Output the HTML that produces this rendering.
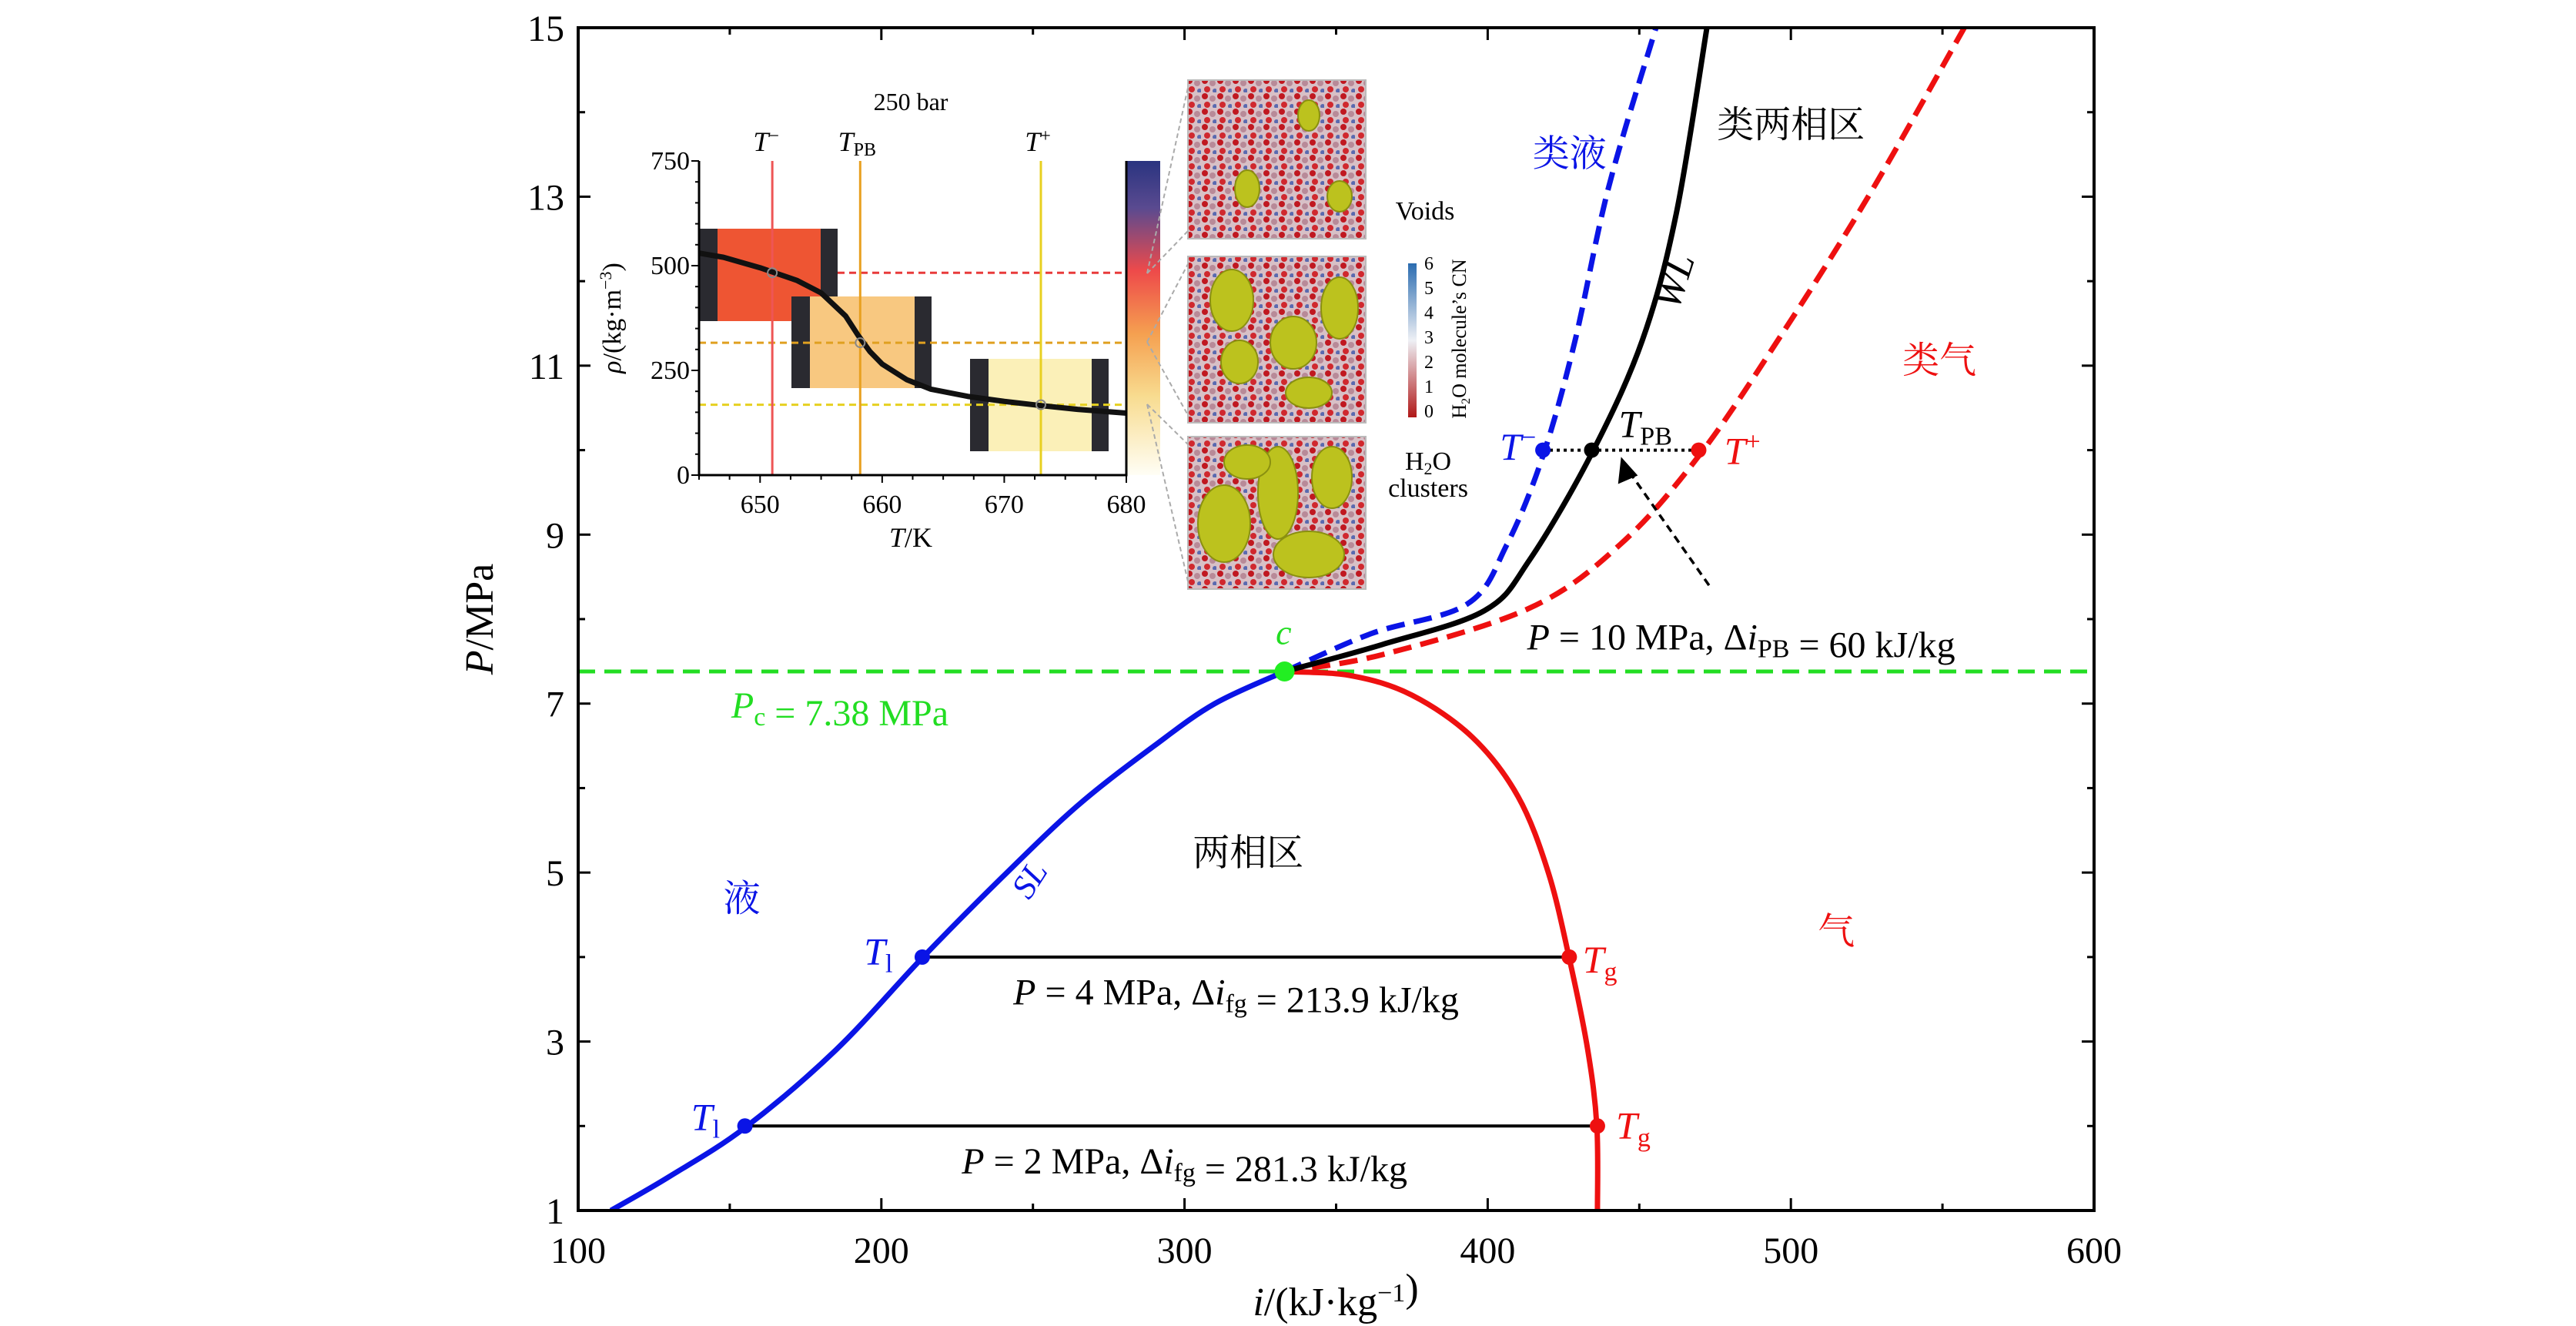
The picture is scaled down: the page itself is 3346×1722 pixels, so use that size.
<!DOCTYPE html>
<html><head><meta charset="utf-8">
<style>
html,body{margin:0;padding:0;background:#fff;}
svg{display:block;font-family:"Liberation Serif","Noto Serif CJK SC",serif;}
.cjk{font-family:"Liberation Serif","Noto Serif CJK SC","Noto Sans CJK SC",serif;}
</style></head>
<body>
<svg id="chart" width="3346" height="1722" viewBox="0 0 3346 1722" xmlns="http://www.w3.org/2000/svg" font-family="Liberation Serif, Noto Serif CJK SC, serif">
<defs>
<linearGradient id="cbar" x1="0" y1="0" x2="0" y2="1">
<stop offset="0" stop-color="#2a3480"/><stop offset="0.15" stop-color="#5a4a90"/>
<stop offset="0.35" stop-color="#ee4a4a"/><stop offset="0.55" stop-color="#f5a050"/>
<stop offset="0.75" stop-color="#f8dc90"/><stop offset="1" stop-color="#fffef5"/></linearGradient>
<linearGradient id="cnbar" x1="0" y1="0" x2="0" y2="1">
<stop offset="0" stop-color="#2b6cb0"/><stop offset="0.5" stop-color="#eef0f5"/><stop offset="1" stop-color="#b01818"/></linearGradient>
<pattern id="mol" width="20" height="20" patternUnits="userSpaceOnUse">
<rect width="20" height="20" fill="#d8c0c6"/>
<circle cx="5" cy="5" r="4" fill="#c01820"/><circle cx="15" cy="8" r="4" fill="#b88a98"/>
<circle cx="8" cy="16" r="4" fill="#d0282e"/><circle cx="18" cy="18" r="3" fill="#5a6ab0"/></pattern>
</defs>
<g id="inset"></g>
<g id="main"></g>
</svg>
<script>
// ---------- main chart data ----------
const xTicks = [100, 200, 300, 400, 500, 600];
const yTicks = [1, 3, 5, 7, 9, 11, 13, 15];
const slI = [110.8, 130, 155, 185, 213.5, 240, 265, 290, 310, 333];
const slP = [1, 1.4, 1.98, 2.9, 3.99, 4.95, 5.8, 6.5, 7.0, 7.38];
const svI = [333, 355, 375, 395, 410, 420, 427, 433, 436, 436.2];
const svP = [7.38, 7.33, 7.1, 6.6, 5.9, 5.0, 3.97, 2.9, 2.0, 1];
const wlI = [333, 365.3, 398.9, 413.8, 434.3, 451, 462.2, 472.3];
const wlP = [7.38, 7.7, 8.1, 8.7, 9.96, 11.3, 12.8, 15];
const tmI = [333, 361.7, 393.3, 406.3, 418.2, 428.7, 439.8, 455.5];
const tmP = [7.38, 7.83, 8.18, 8.88, 9.93, 11.28, 13.1, 15];
const tpI = [333, 365.3, 413.8, 443.6, 469.6, 495.7, 525.5, 557.2];
const tpP = [7.38, 7.58, 8.13, 8.88, 9.93, 11.3, 13.0, 15];
const Pc = 7.38, Ic = 333;
const isobarP = [4, 2];
const isobarL = [213.5, 155];
const isobarG = [426.9, 436.2];
const pbP = 10, pbMinus = 418.2, pbMid = 434.3, pbPlus = 469.6;
// ---------- inset data ----------
const inTicks = [650, 660, 670, 680];
const inYTicks = [0, 250, 500, 750];
const rhoT = [645, 647, 650, 653, 655, 657, 658, 659, 660, 662, 664, 667, 670, 673, 676, 680];
const rhoV = [530, 520, 495, 465, 435, 380, 335, 295, 265, 228, 205, 188, 176, 166, 157, 148];
const markT = [651, 658.2, 673];
const markRho = [483, 316, 168];

const NS = "http://www.w3.org/2000/svg";
function mk(parent, tag, attrs, text) {
  const e = document.createElementNS(NS, tag);
  for (const k in attrs) e.setAttribute(k, attrs[k]);
  if (text !== undefined) e.textContent = text;
  parent.appendChild(e);
  return e;
}
const X = i => 751 + (i - 100) * (2720 - 751) / 500;
const Y = p => 1572 - (p - 1) * (1572 - 36) / 14;
function smooth(pts) {
  let d = "M" + pts[0][0] + "," + pts[0][1];
  for (let k = 0; k < pts.length - 1; k++) {
    const p0 = pts[Math.max(0, k - 1)], p1 = pts[k], p2 = pts[k + 1], p3 = pts[Math.min(pts.length - 1, k + 2)];
    const c1 = [p1[0] + (p2[0] - p0[0]) / 6, p1[1] + (p2[1] - p0[1]) / 6];
    const c2 = [p2[0] - (p3[0] - p1[0]) / 6, p2[1] - (p3[1] - p1[1]) / 6];
    d += "C" + c1 + " " + c2 + " " + p2;
  }
  return d;
}
const main = document.getElementById("main");
const cp = mk(main, "clipPath", {id: "plotclip"});
mk(cp, "rect", {x: 751, y: 36, width: 1969, height: 1536});
const g = mk(main, "g", {"clip-path": "url(#plotclip)"});

let el = mk(g, "line", {x1: 751, x2: 2720, y1: Y(Pc), y2: Y(Pc), stroke: "#22dd22", "stroke-width": 5, "stroke-dasharray": "22 12"});



function curve(I, P, color, dash, name) {
  const pts = I.map((v, k) => [X(v), Y(P[k])]);
  const a = {d: smooth(pts), fill: "none", stroke: color, "stroke-width": 7};
  if (dash) a["stroke-dasharray"] = "24 12";
  const c = mk(g, "path", a);
  
  
}
curve(slI, slP, "#0a14e6", false, "saturated-liquid-line");
curve(svI, svP, "#ee1010", false, "saturated-vapor-line");
curve(tpI, tpP, "#ee1010", true, "t-plus-line");
curve(tmI, tmP, "#0a14e6", true, "t-minus-line");
curve(wlI, wlP, "#000", false, "widom-line");

isobarP.forEach((p, k) => {
  const l = mk(g, "line", {x1: X(isobarL[k]), x2: X(isobarG[k]), y1: Y(p), y2: Y(p), stroke: "#000", "stroke-width": 4});
  
  
  const d1 = mk(g, "circle", {cx: X(isobarL[k]), cy: Y(p), r: 10, fill: "#0a14e6"});
  
  
  const d2 = mk(g, "circle", {cx: X(isobarG[k]), cy: Y(p), r: 10, fill: "#ee1010"});
  
  
});
el = mk(g, "line", {x1: X(pbMinus), x2: X(pbPlus), y1: Y(pbP), y2: Y(pbP), stroke: "#000", "stroke-width": 4, "stroke-dasharray": "4 5"});


[[pbMinus, "#0a14e6", "t-minus-point"], [pbMid, "#000", "tpb-point"], [pbPlus, "#ee1010", "t-plus-point"]].forEach(a => {
  const c = mk(g, "circle", {cx: X(a[0]), cy: Y(pbP), r: 10, fill: a[1]});
  
  
});
el = mk(g, "line", {x1: X(473), y1: Y(8.4), x2: X(446), y2: Y(9.78), stroke: "#000", "stroke-width": 3.5, "stroke-dasharray": "10 7"});


el = mk(g, "polygon", {points: [[X(444), Y(9.92)], [X(443), Y(9.6)], [X(449.5), Y(9.7)]].map(p => p.join(",")).join(" "), fill: "#000"});


el = mk(g, "circle", {cx: X(Ic), cy: Y(Pc), r: 13, fill: "#22ee22"});



el = mk(main, "rect", {x: 751, y: 36, width: 1969, height: 1536, fill: "none", stroke: "#000", "stroke-width": 4});


for (let v = 100; v <= 600; v += 50) {
  const major = v % 100 === 0, len = major ? 16 : 9;
  mk(main, "line", {x1: X(v), x2: X(v), y1: 1572, y2: 1572 - len, stroke: "#000", "stroke-width": 3});
  mk(main, "line", {x1: X(v), x2: X(v), y1: 36, y2: 36 + len, stroke: "#000", "stroke-width": 3});
}
for (let v = 1; v <= 15; v += 1) {
  const major = v % 2 === 1, len = major ? 16 : 9;
  mk(main, "line", {x1: 751, x2: 751 + len, y1: Y(v), y2: Y(v), stroke: "#000", "stroke-width": 3});
  mk(main, "line", {x1: 2720, x2: 2720 - len, y1: Y(v), y2: Y(v), stroke: "#000", "stroke-width": 3});
}
xTicks.forEach(v => {
  const t = mk(main, "text", {x: X(v), y: 1640, "font-size": 48, "text-anchor": "middle"}, String(v));
  
  
});
yTicks.forEach(v => {
  const t = mk(main, "text", {x: 733, y: Y(v) + 17, "font-size": 48, "text-anchor": "end"}, String(v));
  
  
});
</script>

<script>
(function(){
const NS = "http://www.w3.org/2000/svg";
const main = document.getElementById("main");
const X = i => 751 + (i - 100) * (2720 - 751) / 500;
const Y = p => 1572 - (p - 1) * (1572 - 36) / 14;
function t(html, x, y, size, color, anchor, name, rot, cls) {
  const e = document.createElementNS(NS, "text");
  e.setAttribute("x", x); e.setAttribute("y", y);
  e.setAttribute("font-size", size); e.setAttribute("fill", color);
  e.setAttribute("text-anchor", anchor);
  if (rot) e.setAttribute("transform", "rotate(" + rot + " " + x + " " + y + ")");
  if (cls) e.setAttribute("class", cls);
  e.innerHTML = html;
  
  
  main.appendChild(e);
}
const sub = s => '<tspan font-size="34" dy="10">' + s + '</tspan><tspan dy="-10"></tspan>';
const sup = s => '<tspan font-size="34" dy="-18">' + s + '</tspan><tspan dy="18"></tspan>';
t('<tspan font-style="italic">P</tspan>/MPa', 640, 804, 52, "#000", "middle", "y-axis-title", -90);
t('<tspan font-style="italic">i</tspan>/(kJ·kg' + sup('−1') + ')', 1735, 1708, 52, "#000", "middle", "x-axis-title");
t('类液', X(427), Y(13.53) + 18, 48, "#0a14e6", "middle", "label-liquid-like", 0, "cjk");
t('类两相区', X(500), Y(13.87) + 18, 48, "#000", "middle", "label-pseudo-two-phase", 0, "cjk");
t('<tspan font-style="italic">WL</tspan>', X(462) + 14, Y(12.1) + 16, 52, "#000", "middle", "label-wl", -72);
t('类气', X(549), Y(11.08) + 18, 48, "#ee1010", "middle", "label-gas-like", 0, "cjk");
t('<tspan font-style="italic">T</tspan>' + sup('−'), X(410), Y(10.05) + 18, 50, "#0a14e6", "middle", "label-t-minus");
t('<tspan font-style="italic">T</tspan>' + sub('PB'), X(452), Y(10.3) + 16, 50, "#000", "middle", "label-tpb");
t('<tspan font-style="italic">T</tspan>' + sup('+'), X(484), Y(10.0) + 18, 50, "#ee1010", "middle", "label-t-plus");
t('<tspan font-style="italic">P</tspan> = 10 MPa, Δ<tspan font-style="italic">i</tspan>' + sub('PB') + ' = 60 kJ/kg', X(413), Y(7.64), 48, "#000", "start", "label-p10");
t('<tspan font-style="italic">c</tspan>', X(332.7), Y(7.83) + 14, 46, "#22dd22", "middle", "label-critical");
t('<tspan font-style="italic">P</tspan>' + sub('c') + ' = 7.38 MPa', X(150.5), Y(6.98) + 16, 48, "#22dd22", "start", "label-pc");
t('两相区', X(321), Y(5.25) + 18, 48, "#000", "middle", "label-two-phase", 0, "cjk");
t('<tspan font-style="italic">SL</tspan>', X(252), Y(4.99) + 16, 44, "#0a14e6", "middle", "label-sl", -57);
t('液', X(154), Y(4.71) + 18, 48, "#0a14e6", "middle", "label-liquid", 0, "cjk");
t('气', X(515), Y(4.32) + 18, 48, "#ee1010", "middle", "label-gas", 0, "cjk");
t('<tspan font-style="italic">T</tspan>' + sub('l'), X(199), Y(4.06) + 16, 50, "#0a14e6", "middle", "label-tl-4");
t('<tspan font-style="italic">T</tspan>' + sub('l'), X(142), Y(2.1) + 16, 50, "#0a14e6", "middle", "label-tl-2");
t('<tspan font-style="italic">T</tspan>' + sub('g'), X(437), Y(3.96) + 16, 50, "#ee1010", "middle", "label-tg-4");
t('<tspan font-style="italic">T</tspan>' + sub('g'), X(448), Y(2.0) + 16, 50, "#ee1010", "middle", "label-tg-2");
t('<tspan font-style="italic">P</tspan> = 4 MPa, Δ<tspan font-style="italic">i</tspan>' + sub('fg') + ' = 213.9 kJ/kg', X(317), Y(3.6) + 18, 48, "#000", "middle", "label-p4");
t('<tspan font-style="italic">P</tspan> = 2 MPa, Δ<tspan font-style="italic">i</tspan>' + sub('fg') + ' = 281.3 kJ/kg', X(300), Y(1.6) + 18, 48, "#000", "middle", "label-p2");
})();
</script>

<script>
(function(){
const NS = "http://www.w3.org/2000/svg";
const ins = document.getElementById("inset");
function mk(parent, tag, attrs, text) {
  const e = document.createElementNS(NS, tag);
  for (const k in attrs) e.setAttribute(k, attrs[k]);
  if (text !== undefined) e.innerHTML = text;
  parent.appendChild(e);
  return e;
}
const TX = T => 908 + (T - 645) * (1463 - 908) / 35;
const RY = r => 617 - r * (617 - 209) / 750;
const boxes = [[908, 1088, 297, 417, "#ee5533"], [1028, 1210, 385, 504, "#f8c880"], [1260, 1440, 466, 586, "#fbf0b8"]];
boxes.forEach((b, k) => {
  let e = mk(ins, "rect", {x: b[0], y: b[2], width: b[1] - b[0], height: b[3] - b[2], fill: b[4]});
  
  
  mk(ins, "rect", {x: b[0], y: b[2], width: 24, height: b[3] - b[2], fill: "#2a2a30"});
  mk(ins, "rect", {x: b[1] - 22, y: b[2], width: 22, height: b[3] - b[2], fill: "#2a2a30"});
});
const hc = ["#e83a3a", "#e0a020", "#e6d020"];
markRho.forEach((r, k) => {
  const e = mk(ins, "line", {x1: k === 0 ? 1088 : 908, x2: 1463, y1: RY(r), y2: RY(r), stroke: hc[k], "stroke-width": 3, "stroke-dasharray": "9 6"});
  
  
});
const vc = ["#ee5555", "#e8a020", "#e8d020"];
markT.forEach((T, k) => {
  const e = mk(ins, "line", {x1: TX(T), x2: TX(T), y1: 209, y2: 617, stroke: vc[k], "stroke-width": 3});
  
  
});
let d = rhoT.map((T, k) => (k ? "L" : "M") + TX(T) + "," + RY(rhoV[k])).join("");
let e = mk(ins, "path", {d: d, fill: "none", stroke: "#111", "stroke-width": 7, "stroke-linejoin": "round"});


markT.forEach((T, k) => {
  const c = mk(ins, "circle", {cx: TX(T), cy: RY(markRho[k]), r: 6, fill: "none", stroke: "#888", "stroke-width": 2});
  
  
});
e = mk(ins, "rect", {x: 1463, y: 209, width: 44, height: 408, fill: "url(#cbar)"});


e = mk(ins, "path", {d: "M908,209 L908,617 L1463,617 L1463,209", fill: "none", stroke: "#000", "stroke-width": 3});


for (let T = 645; T <= 680; T += 2.5) {
  const maj = T % 10 === 0;
  mk(ins, "line", {x1: TX(T), x2: TX(T), y1: 617, y2: 617 + (maj ? 10 : 6), stroke: "#000", "stroke-width": 2});
}
for (let r = 0; r <= 750; r += 50) {
  const maj = r % 250 === 0;
  mk(ins, "line", {x1: 908, x2: 908 - (maj ? 10 : 5), y1: RY(r), y2: RY(r), stroke: "#000", "stroke-width": 2});
}
inTicks.forEach(T => {
  const t = mk(ins, "text", {x: TX(T), y: 666, "font-size": 34, "text-anchor": "middle"}, String(T));
  
  
});
inYTicks.forEach(r => {
  const t = mk(ins, "text", {x: 896, y: RY(r) + 11, "font-size": 34, "text-anchor": "end"}, String(r));
  
  
});
const lab = (html, x, y, size, name, rot, anchor) => {
  const t = mk(ins, "text", {x: x, y: y, "font-size": size, "text-anchor": anchor || "middle"}, html);
  if (rot) t.setAttribute("transform", "rotate(" + rot + " " + x + " " + y + ")");
  
  
};
lab('<tspan font-style="italic">T</tspan>/K', 1183, 710, 36, "inset-x-title");
lab('<tspan font-style="italic">ρ</tspan>/(kg·m<tspan font-size="22" dy="-12">−3</tspan><tspan dy="12">)</tspan>', 806, 413, 34, "inset-y-title", -90);
lab('250 bar', 1183, 143, 32, "inset-title");
lab('<tspan font-style="italic">T</tspan><tspan font-size="24" dy="-12">−</tspan>', TX(651) - 8, 196, 36, "inset-t-minus");
lab('<tspan font-style="italic">T</tspan><tspan font-size="24" dy="6">PB</tspan>', TX(658.2) - 4, 196, 36, "inset-tpb");
lab('<tspan font-style="italic">T</tspan><tspan font-size="24" dy="-12">+</tspan>', TX(673) - 4, 196, 36, "inset-t-plus");
const snaps = [[1543, 104, 231, 206], [1543, 333, 231, 216], [1543, 567, 231, 198]];
const blobs = [
  [[1700, 150, 14, 20], [1620, 245, 16, 24], [1740, 255, 16, 20]],
  [[1600, 390, 28, 40], [1680, 445, 30, 34], [1740, 400, 24, 40], [1610, 470, 24, 28], [1700, 510, 30, 20]],
  [[1590, 680, 34, 50], [1660, 640, 26, 60], [1730, 620, 26, 40], [1700, 720, 46, 30], [1620, 600, 30, 22]]
];
snaps.forEach((s, k) => {
  const r = mk(ins, "rect", {x: s[0], y: s[1], width: s[2], height: s[3], fill: "url(#mol)", stroke: "#bbb", "stroke-width": 2});
  
  
  blobs[k].forEach(b => mk(ins, "ellipse", {cx: b[0], cy: b[1], rx: b[2], ry: b[3], fill: "#bcc21e", stroke: "#8a9010", "stroke-width": 2}));
  mk(ins, "line", {x1: 1490, y1: [355, 444, 525][k], x2: s[0], y2: s[1] + 10, stroke: "#aaa", "stroke-width": 2, "stroke-dasharray": "6 4"});
  mk(ins, "line", {x1: 1490, y1: [355, 444, 525][k], x2: s[0], y2: s[1] + s[3] - 10, stroke: "#aaa", "stroke-width": 2, "stroke-dasharray": "6 4"});
});
e = mk(ins, "rect", {x: 1829, y: 342, width: 11, height: 200, fill: "url(#cnbar)"});


[6,5,4,3,2,1,0].forEach((v, k) => {
  const t = mk(ins, "text", {x: 1850, y: 350 + k * 32, "font-size": 24}, String(v));
  
  
});
lab('H<tspan font-size="16" dy="5">2</tspan><tspan dy="-5">O molecule’s CN</tspan>', 1904, 440, 26, "cn-colorbar-title", -90);
lab('Voids', 1851, 285, 34, "voids-label");
lab('H<tspan font-size="22" dy="6">2</tspan><tspan dy="-6">O</tspan>', 1855, 610, 34, "h2o-label");
lab('clusters', 1855, 645, 34, "clusters-label");
})();
</script>
</body></html>
